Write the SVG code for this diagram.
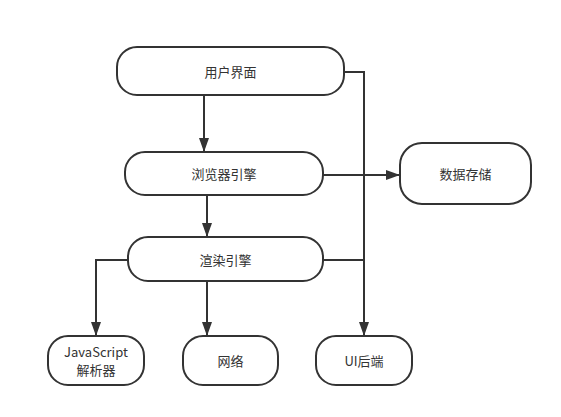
<svg xmlns="http://www.w3.org/2000/svg" width="561" height="417" viewBox="0 0 561 417">
<style>
.box{fill:#fff;stroke:#333;stroke-width:2}
.t{font-family:"Noto Sans CJK SC","Liberation Sans",sans-serif;font-size:13px;fill:#333;text-anchor:middle;dominant-baseline:central}
.e{fill:none;stroke:#333;stroke-width:2}
</style>
<defs>
<marker id="a" markerUnits="userSpaceOnUse" markerWidth="14" markerHeight="10" refX="14" refY="5" orient="auto">
<path d="M0,0 L14,5 L0,10 z" fill="#333"/>
</marker>
</defs>
<rect width="561" height="417" fill="#fff"/>
<g id="edges">
<path class="e" d="M204,95 V152" marker-end="url(#a)"/>
<path class="e" d="M323,175 H400" marker-end="url(#a)"/>
<path class="e" d="M207,195 V237" marker-end="url(#a)"/>
<path class="e" d="M344,72 H364 V336" marker-end="url(#a)"/>
<path class="e" d="M323,260 H364"/>
<path class="e" d="M128,260 H96 V336" marker-end="url(#a)"/>
<path class="e" d="M207,281 V336" marker-end="url(#a)"/>
</g>
<g id="ui"><rect class="box" x="117" y="47" width="227" height="48" rx="20"/><text class="t" x="230.5" y="71">用户界面</text></g>
<g id="browser"><rect class="box" x="125" y="152" width="198" height="43" rx="20"/><text class="t" x="224" y="173.5">浏览器引擎</text></g>
<g id="storage"><rect class="box" x="400" y="143" width="131" height="61" rx="22"/><text class="t" x="465.5" y="173.5">数据存储</text></g>
<g id="render"><rect class="box" x="128" y="237" width="195" height="44" rx="20"/><text class="t" x="225.5" y="259">渲染引擎</text></g>
<g id="js"><rect class="box" x="48" y="336" width="96" height="49" rx="20"/><text class="t" x="96" y="351">JavaScript</text><text class="t" x="96" y="369">解析器</text></g>
<g id="net"><rect class="box" x="183" y="336" width="95" height="49" rx="20"/><text class="t" x="230.5" y="360.5">网络</text></g>
<g id="uib"><rect class="box" x="316" y="336" width="96" height="49" rx="20"/><text class="t" x="364" y="360.5">UI后端</text></g>
</svg>
